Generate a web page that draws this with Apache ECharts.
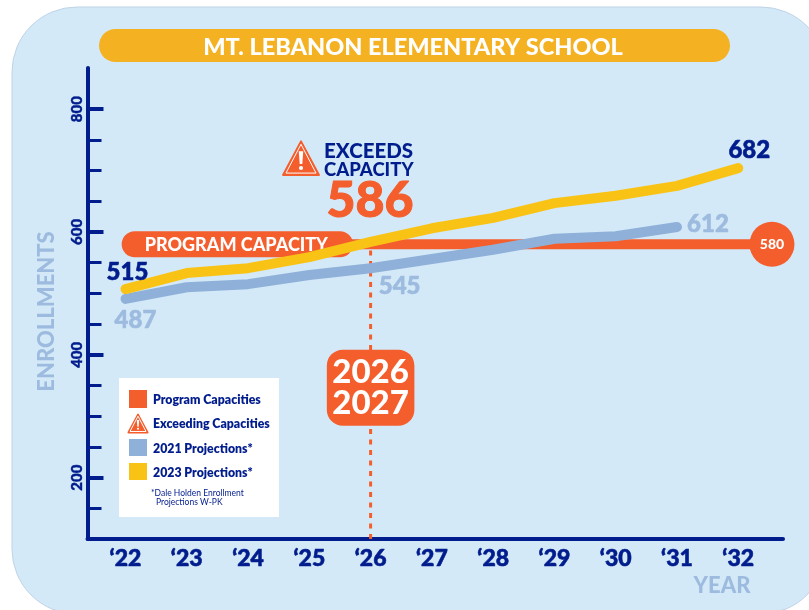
<!DOCTYPE html>
<html>
<head>
<meta charset="utf-8">
<script src="https://cdn.jsdelivr.net/npm/echarts@6/dist/echarts.min.js"></script>
<style>
  html, body { margin: 0; padding: 0; background: #fff; }
  #chart { width: 809px; height: 610px; }
</style>
</head>
<body>
<div id="chart"></div>
<script>
  const years = [2022, 2023, 2024, 2025, 2026, 2027, 2028, 2029, 2030, 2031, 2032];
  const yearLabels = ["\u201822", "\u201823", "\u201824", "\u201825", "\u201826", "\u201827", "\u201828", "\u201829", "\u201830", "\u201831", "\u201832"];
  // values as the lines are drawn in the picture
  const projections2023 = [507, 533, 541, 559, 584, 606, 623, 647, 659, 675, 704];
  const projections2021 = [491, 510, 515, 530, 541, 556, 571, 589, 593, 608];
  // numbers printed next to the lines
  const printed2023 = { 2022: '515', 2032: '682' };
  const printed2021 = { 2022: '487', 2026: '545', 2031: '612' };
  const capacity = 580;
  const capacityEndYear = 2032.55;
  const capacityPillYears = [2022.15, 2025.5];
  const exceedYear = 2026;
  const exceedValue = 586;
  const yLabelValues = [200, 400, 600, 800];
  const yTickValues = [150, 200, 250, 300, 350, 400, 450, 500, 550, 600, 650, 700, 750, 800];

  const font = 'Lato';
  const navy = '#011C8C';
  const orange = '#F45D2C';
  const blue = '#8FB1D9';
  const yellow = '#F9C316';
  const paleBlue = '#9DBBDF';

  const labelOffsets = {
    515: [2, -17], 682: [11, -18], 487: [10, 21], 545: [29, 18], 612: [31, -3]
  };

  function lineData(values, printed, color) {
    return values.map((v, i) => {
      const text = printed[years[i]];
      if (!text) return [years[i], v];
      return {
        value: [years[i], v],
        label: {
          show: true, formatter: text, position: 'inside', offset: labelOffsets[text],
          color: color, fontFamily: font, fontWeight: 900, fontSize: 24,
          textBorderColor: color, textBorderWidth: 0.6
        }
      };
    });
  }

  let myChart = echarts.init(document.getElementById('chart'), null, { renderer: 'canvas' });

  function warningTriangle(cx, cy, size, z) {
    return {
      type: 'group', x: cx, y: cy, children: [
        { type: 'polygon', z: z, shape: { points: [[0, -size * 0.55], [size * 0.56, size * 0.5], [-size * 0.56, size * 0.5]] },
          style: { fill: orange, stroke: orange, lineWidth: 2, lineJoin: 'round' } },
        { type: 'polygon', z: z + 1, shape: { points: [[0, -size * 0.46], [size * 0.47, size * 0.44], [-size * 0.47, size * 0.44]] },
          style: { fill: orange, stroke: '#fff', lineWidth: 1, lineJoin: 'round' } },
        { type: 'polygon', z: z + 2, shape: { points: [[-size * 0.07, -size * 0.24], [size * 0.07, -size * 0.24], [size * 0.04, size * 0.16], [-size * 0.04, size * 0.16]] },
          style: { fill: '#fff' } },
        { type: 'circle', z: z + 2, shape: { cx: 0, cy: size * 0.28, r: size * 0.065 }, style: { fill: '#fff' } }
      ]
    };
  }

  let option = {
    animation: false,
    textStyle: { fontFamily: font },
    grid: { left: 87.5, right: 26, top: 68, bottom: 71, outerBoundsMode: 'none' },
    xAxis: {
      type: 'value',
      min: 2021.38,
      max: 2032.73,
      splitLine: { show: false },
      axisLine: { show: true, lineStyle: { color: navy, width: 4, cap: 'round' } },
      axisTick: { show: false },
      axisLabel: {
        customValues: years,
        formatter: (v) => yearLabels[years.indexOf(v)],
        color: navy, fontFamily: font, fontWeight: 900, fontSize: 23, margin: 8,
        textBorderColor: navy, textBorderWidth: 0.6
      }
    },
    yAxis: [{
      type: 'value',
      min: 100,
      max: 867,
      splitLine: { show: false },
      axisLine: { show: true, lineStyle: { color: navy, width: 4, cap: 'round' } },
      axisTick: { show: true, inside: true, length: 16, customValues: yLabelValues, lineStyle: { color: navy, width: 4 } },
      axisLabel: {
        customValues: yLabelValues, rotate: 90, color: navy, fontFamily: font, fontWeight: 900, fontSize: 15, margin: 3,
        textBorderColor: navy, textBorderWidth: 0.4
      },
      name: 'ENROLLMENTS',
      nameLocation: 'middle',
      nameGap: 30,
      nameTextStyle: { color: paleBlue, fontFamily: font, fontWeight: 900, fontSize: 22, padding: [0, 16, 0, 0] }
    }, {
      type: 'value',
      position: 'left',
      min: 100,
      max: 867,
      splitLine: { show: false },
      axisLine: { show: false },
      axisLabel: { show: false },
      axisTick: { show: true, inside: true, length: 14, customValues: yTickValues, lineStyle: { color: navy, width: 3 } }
    }],
    series: [
      {
        name: 'Drop line', type: 'line', z: 2, silent: true, symbol: 'none',
        data: [[exceedYear, 100], [exceedYear, exceedValue]],
        lineStyle: { color: orange, width: 3, type: [5, 5.5] }
      },
      {
        name: 'Program Capacities', type: 'line', z: 3, symbol: 'circle', symbolSize: 0, clip: false,
        showAllSymbol: true,
        data: [
          [capacityPillYears[1], capacity],
          {
            value: [capacityEndYear, capacity],
            symbol: 'circle', symbolSize: 45,
            itemStyle: { color: orange },
            label: { show: true, position: 'inside', formatter: String(capacity), color: '#fff', fontFamily: font, fontWeight: 900, fontSize: 14 }
          }
        ],
        lineStyle: { color: orange, width: 10 }
      },
      {
        name: 'Program capacity pill', type: 'line', z: 3, symbol: 'circle', symbolSize: 0,
        showAllSymbol: true,
        data: [
          {
            value: [capacityPillYears[0], capacity],
            label: { show: true, position: 'right', distance: 10, formatter: 'PROGRAM CAPACITY', offset: [0, 1], color: '#fff', fontFamily: font, fontWeight: 900, fontSize: 18 }
          },
          [capacityPillYears[1], capacity]
        ],
        lineStyle: { color: orange, width: 26, cap: 'round' }
      },
      {
        name: '2021 Projections*', type: 'line', z: 4, symbol: 'circle', symbolSize: 0, clip: false,
        showAllSymbol: true,
        data: lineData(projections2021, printed2021, paleBlue),
        lineStyle: { color: blue, width: 10, cap: 'round', join: 'round' }
      },
      {
        name: '2023 Projections*', type: 'line', z: 5, symbol: 'circle', symbolSize: 0, clip: false,
        showAllSymbol: true,
        data: lineData(projections2023, printed2023, navy),
        lineStyle: { color: yellow, width: 10, cap: 'round', join: 'round' }
      },
      {
        name: 'Exceeds year', type: 'scatter', z: 6, symbolSize: 0, silent: true,
        itemStyle: { opacity: 1 },
        data: [[exceedYear, 346.5]],
        label: {
          show: true, position: 'inside', formatter: '2026\n2027', opacity: 1,
          backgroundColor: orange, borderRadius: 16, padding: [7, 5.5, 7, 5.5],
          color: '#fff', fontFamily: font, fontWeight: 900, fontSize: 33, lineHeight: 31
        }
      }
    ],
    graphic: [
      { type: 'rect', z: -10, shape: { x: 12, y: 7, width: 814, height: 607, r: 65 }, style: { fill: '#D4E9F8', stroke: '#BDD3E6', lineWidth: 1 } },
      { type: 'rect', z: 1, shape: { x: 99, y: 29, width: 631, height: 33, r: 16.5 }, style: { fill: '#F4B223' } },
      { type: 'text', z: 2, x: 413, y: 47, style: { text: 'MT. LEBANON ELEMENTARY SCHOOL', fill: '#fff', font: '900 23.5px ' + font, align: 'center', verticalAlign: 'middle' } },
      { type: 'text', z: 2, x: 722, y: 586, style: { text: 'YEAR', fill: paleBlue, font: '900 22px ' + font, align: 'center', verticalAlign: 'middle' } },
      warningTriangle(301, 159, 32, 6),
      { type: 'text', z: 6, x: 324, y: 151, style: { text: 'EXCEEDS', fill: navy, font: '900 20.5px ' + font, verticalAlign: 'middle' } },
      { type: 'text', z: 6, x: 324, y: 170, style: { text: 'CAPACITY', fill: navy, font: '900 18.5px ' + font, verticalAlign: 'middle' } },
      { type: 'text', z: 6, x: 370, y: 201, style: { text: String(exceedValue), fill: orange, stroke: orange, lineWidth: 1, font: '900 50px ' + font, align: 'center', verticalAlign: 'middle' } },
      // legend box
      { type: 'rect', z: 6, shape: { x: 119, y: 378, width: 160, height: 139 }, style: { fill: '#fff' } },
      { type: 'rect', z: 7, shape: { x: 129, y: 390, width: 18, height: 18 }, style: { fill: orange } },
      warningTriangle(138, 424, 17, 7),
      { type: 'rect', z: 7, shape: { x: 129, y: 439, width: 18, height: 17 }, style: { fill: blue } },
      { type: 'rect', z: 7, shape: { x: 129, y: 463, width: 18, height: 17 }, style: { fill: yellow } },
      { type: 'text', z: 7, x: 153, y: 400, style: { text: 'Program Capacities', fill: navy, font: '800 12.3px ' + font, verticalAlign: 'middle' } },
      { type: 'text', z: 7, x: 153, y: 424, style: { text: 'Exceeding Capacities', fill: navy, font: '800 12.3px ' + font, verticalAlign: 'middle' } },
      { type: 'text', z: 7, x: 153, y: 449, style: { text: '2021 Projections*', fill: navy, font: '800 12.3px ' + font, verticalAlign: 'middle' } },
      { type: 'text', z: 7, x: 153, y: 473, style: { text: '2023 Projections*', fill: navy, font: '800 12.3px ' + font, verticalAlign: 'middle' } },
      { type: 'text', z: 7, x: 151, y: 493, style: { text: '*Dale Holden Enrollment', fill: navy, font: '400 8.5px ' + font, verticalAlign: 'middle' } },
      { type: 'text', z: 7, x: 156, y: 502, style: { text: 'Projections W-PK', fill: navy, font: '400 8.5px ' + font, verticalAlign: 'middle' } }
    ]
  };
  myChart.setOption(option);
</script>
</body>
</html>
